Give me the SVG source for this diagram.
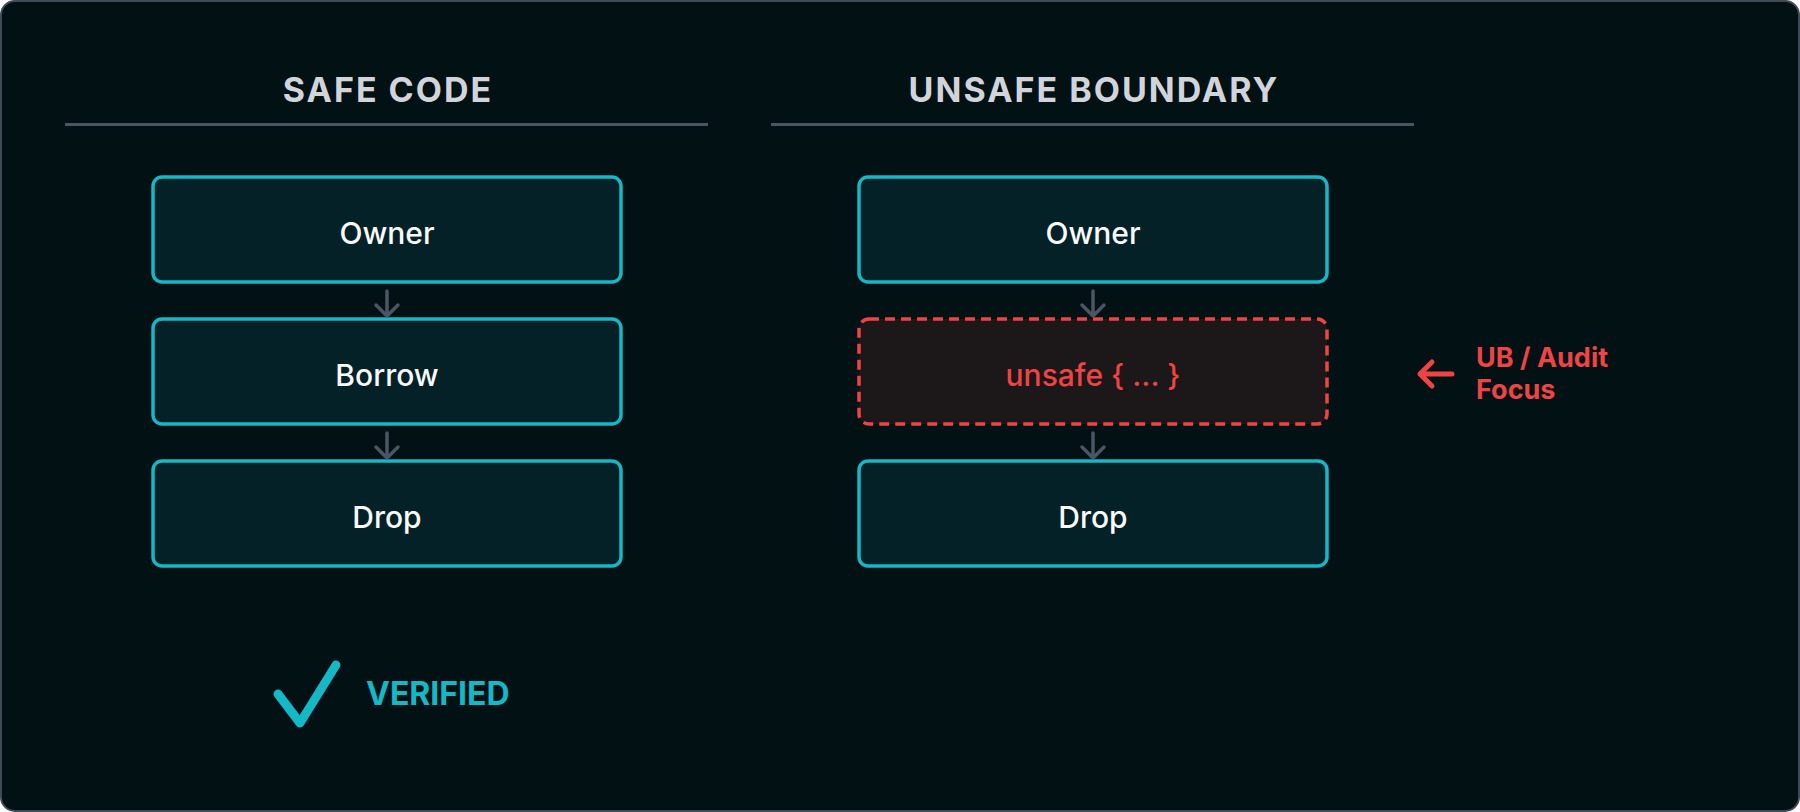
<svg xmlns="http://www.w3.org/2000/svg" width="1800" height="812" viewBox="0 0 1800 812">
<style>
.title{font-family:Inter,"Liberation Sans",sans-serif;font-size:34px;font-weight:700;fill:#d1d5db;letter-spacing:2px;text-anchor:middle}
.rule{stroke:#4b5563;stroke-width:3}
.box{fill:#042127;stroke:#14b8c6;stroke-width:3.5}
.ubox{fill:#1c1719;stroke:#ef4444;stroke-width:3.5;stroke-dasharray:10 6}
.lbl{font-family:Inter,"Liberation Sans",sans-serif;font-size:30px;font-weight:500;fill:#f8fafc;text-anchor:middle}
.ulbl{font-family:Inter,"Liberation Sans",sans-serif;font-size:30px;font-weight:500;fill:#ef4444;text-anchor:middle}
.arr{fill:none;stroke:#4b5563;stroke-width:3.5;stroke-linecap:round;stroke-linejoin:round}
.red{font-family:Inter,"Liberation Sans",sans-serif;font-size:27px;font-weight:700;fill:#ef4444}
.ok{font-family:Inter,"Liberation Sans",sans-serif;font-size:32px;font-weight:700;fill:#14b8c6}
</style>
<rect x="1" y="1" width="1798" height="810" rx="14" fill="#021113" stroke="#3f4a56" stroke-width="2"/>
<g id="safe-header">
<text class="title" x="388" y="102">SAFE CODE</text>
<line class="rule" x1="65" y1="124.5" x2="708" y2="124.5"/>
</g>
<g id="unsafe-header">
<text class="title" x="1094" y="102">UNSAFE BOUNDARY</text>
<line class="rule" x1="771" y1="124.5" x2="1414" y2="124.5"/>
</g>
<g id="safe-owner"><rect class="box" x="153" y="177" width="468" height="105" rx="9"/><text class="lbl" x="387" y="244">Owner</text></g>
<g id="safe-borrow"><rect class="box" x="153" y="319" width="468" height="105" rx="9"/><text class="lbl" x="387" y="386">Borrow</text></g>
<g id="safe-drop"><rect class="box" x="153" y="461" width="468" height="105" rx="9"/><text class="lbl" x="387" y="528">Drop</text></g>
<g id="unsafe-owner"><rect class="box" x="859" y="177" width="468" height="105" rx="9"/><text class="lbl" x="1093" y="244">Owner</text></g>
<g id="unsafe-block"><rect class="ubox" x="859" y="319" width="468" height="105" rx="10"/><text class="ulbl" x="1093" y="386">unsafe { ... }</text></g>
<g id="unsafe-drop"><rect class="box" x="859" y="461" width="468" height="105" rx="9"/><text class="lbl" x="1093" y="528">Drop</text></g>
<g id="connectors">
<path class="arr" d="M387 291V316M376 305L387 316L398 305"/>
<path class="arr" d="M387 433V458M376 447L387 458L398 447"/>
<path class="arr" d="M1093 291V316M1082 305L1093 316L1104 305"/>
<path class="arr" d="M1093 433V458M1082 447L1093 458L1104 447"/>
</g>
<g id="audit-focus">
<path d="M1452 374H1420M1432 362L1420 374L1432 386" fill="none" stroke="#ef4444" stroke-width="5" stroke-linecap="round" stroke-linejoin="round"/>
<text class="red" x="1476" y="367">UB / Audit</text>
<text class="red" x="1476" y="399">Focus</text>
</g>
<g id="verified">
<polyline points="278,694 300,723 336,665" fill="none" stroke="#14b8c6" stroke-width="9" stroke-linecap="round" stroke-linejoin="round"/>
<text class="ok" x="366" y="705">VERIFIED</text>
</g>
</svg>
